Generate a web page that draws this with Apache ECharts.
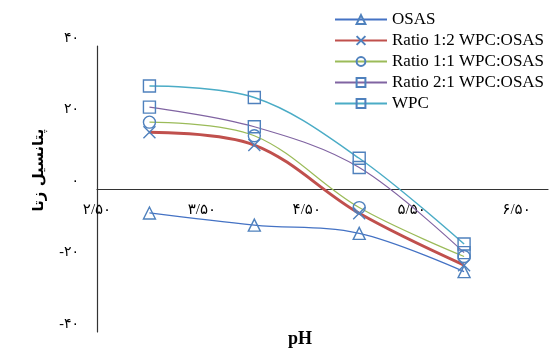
<!DOCTYPE html>
<html><head><meta charset="utf-8">
<script src="https://cdn.jsdelivr.net/npm/echarts@6/dist/echarts.min.js"></script>
<style>html,body{margin:0;padding:0;background:#fff}#c{width:554px;height:354px}</style>
</head><body><div id="c"></div>
<script>
const phValues = [3, 4, 5, 6];
const osas = [-6.7, -10.1, -12.4, -23.1];
const ratio12 = [15.9, 12.3, -6.8, -21.3];
const ratio11 = [18.7, 14.9, -5.2, -18.9];
const ratio21 = [22.9, 17.4, 6.0, -17.8];
const wpc = [28.8, 25.6, 8.6, -15.4];
const seriesNames = ['OSAS', 'Ratio 1:2 WPC:OSAS', 'Ratio 1:1 WPC:OSAS', 'Ratio 2:1 WPC:OSAS', 'WPC'];
const xTickValues = [2.5, 3.5, 4.5, 5.5, 6.5];
const xTickLabels = ['۲/۵۰', '۳/۵۰', '۴/۵۰', '۵/۵۰', '۶/۵۰'];
const yTickValues = [-40, -20, 0, 20, 40];
const yTickLabels = ['-۴۰', '-۲۰', '۰', '۲۰', '۴۰'];
const xAxisTitle = 'pH';
const yAxisTitle = 'پتانسیل زتا';

const markerColor = '#4F81BD';
const serif = '"Liberation Serif", "DejaVu Sans", serif';
function pairs(vals) { return phValues.map((x, i) => [x, vals[i]]); }
function mk(name, vals, color, width, symbol) {
  return {
    name: name, type: 'line', data: pairs(vals), smooth: 0.35,
    symbol: symbol, symbolSize: 12, showSymbol: true,
    lineStyle: { color: color, width: width },
    itemStyle: { color: 'rgba(255,255,255,0)', borderColor: markerColor, borderWidth: 1.4 },
    emphasis: { disabled: true }
  };
}
const chart = echarts.init(document.getElementById('c'), null, { renderer: 'canvas' });
chart.setOption({
  animation: false,
  backgroundColor: '#fff',
  grid: { left: 97, right: 6, top: 46, bottom: 22, containLabel: false },
  legend: {
    orient: 'vertical', left: 329, top: 6, itemWidth: 52, itemHeight: 11, itemGap: 4,
    data: seriesNames,
    textStyle: { fontFamily: serif, fontSize: 17, color: '#000' }
  },
  xAxis: {
    type: 'value', min: 2.5, max: 6.8, position: 'bottom', offset: -143,
    axisLine: { onZero: false, lineStyle: { color: '#333', width: 1.2 } },
    axisTick: { show: false },
    splitLine: { show: false },
    axisLabel: {
      customValues: xTickValues, margin: 14,
      fontFamily: serif, fontSize: 15, color: '#000',
      formatter: v => { const i = xTickValues.findIndex(t => Math.abs(t - v) < 1e-6); return i >= 0 ? xTickLabels[i] : ''; }
    }
  },
  yAxis: {
    type: 'value', min: -40, max: 40, interval: 20,
    axisLine: { show: true, lineStyle: { color: '#333', width: 1.2 } },
    axisTick: { show: false },
    splitLine: { show: false },
    axisLabel: {
      margin: 18, fontFamily: serif, fontSize: 14, color: '#000',
      verticalAlign: 'bottom', lineHeight: 16,
      formatter: v => { const i = yTickValues.indexOf(v); return i >= 0 ? yTickLabels[i] : ''; }
    }
  },
  graphic: [
    { type: 'text', left: 288, top: 330, style: { text: xAxisTitle, font: 'bold 18px "Liberation Serif", serif', fill: '#000' } },
    { type: 'text', x: 39, y: 170, rotation: Math.PI / 2,
      style: { text: yAxisTitle, font: 'bold 15px "DejaVu Sans", sans-serif', fill: '#000', align: 'center', verticalAlign: 'middle' } }
  ],
  series: [
    mk(seriesNames[0], osas, '#4472C4', 1.2, 'triangle'),
    mk(seriesNames[1], ratio12, '#C0504D', 3, 'path://M0,0L10,10M10,0L0,10'),
    mk(seriesNames[2], ratio11, '#9BBB59', 1.2, 'circle'),
    mk(seriesNames[3], ratio21, '#8064A2', 1.2, 'rect'),
    mk(seriesNames[4], wpc, '#4BACC6', 1.5, 'rect')
  ]
});
</script>
</body></html>
